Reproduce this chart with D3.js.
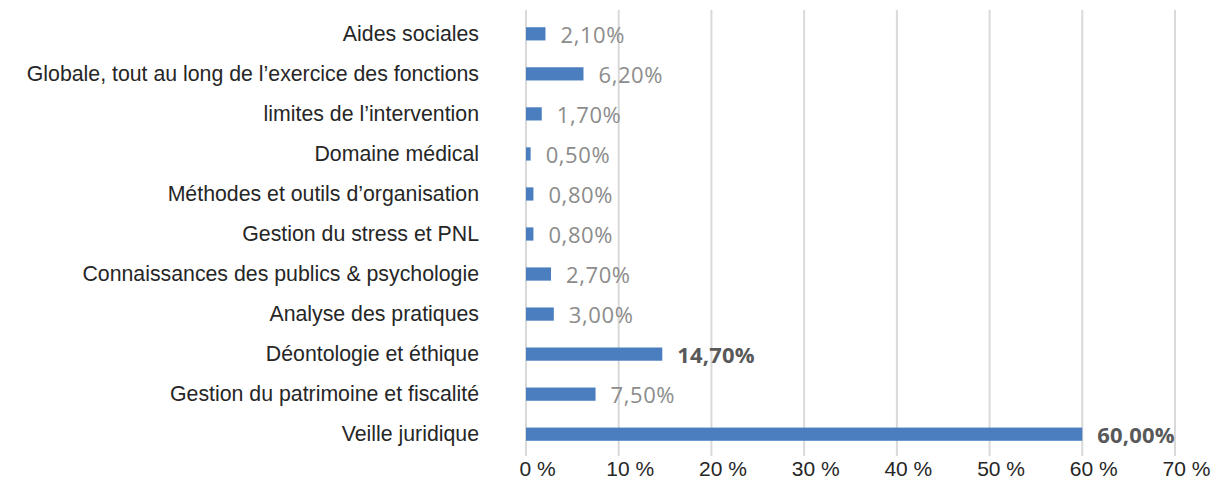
<!DOCTYPE html>
<html>
<head>
<meta charset="utf-8">
<script src="https://cdn.jsdelivr.net/npm/d3@7"></script>
<style>
  body { margin: 0; background: #fff; }
</style>
</head>
<body>
<div id="chart"></div>
<script>
const categories = [
    "Aides sociales",
    "Globale, tout au long de l\u2019exercice des fonctions",
    "limites de l\u2019intervention",
    "Domaine médical",
    "Méthodes et outils d\u2019organisation",
    "Gestion du stress et PNL",
    "Connaissances des publics & psychologie",
    "Analyse des pratiques",
    "Déontologie et éthique",
    "Gestion du patrimoine et fiscalité",
    "Veille juridique"
];
const values = [2.1, 6.2, 1.7, 0.5, 0.8, 0.8, 2.7, 3.0, 14.7, 7.5, 60.0];
const highlighted = ["Déontologie et éthique", "Veille juridique"];
const ticks = [0, 10, 20, 30, 40, 50, 60, 70];

const width = 1215, height = 481;
const margin = { top: 14, right: 40, bottom: 27, left: 526 };

const svg = d3.select("#chart").append("svg")
    .attr("width", width)
    .attr("height", height);

const x = d3.scaleLinear()
    .domain([0, 70])
    .range([margin.left, 1175]);

const y = d3.scaleBand()
    .domain(categories)
    .range([margin.top, height - margin.bottom])
    .paddingInner(0.67)
    .paddingOuter(0.33);

// gridlines
svg.append("g")
    .selectAll("line")
    .data(ticks)
    .join("line")
    .attr("x1", d => x(d))
    .attr("x2", d => x(d))
    .attr("y1", 10)
    .attr("y2", 456)
    .attr("stroke", "#d9d9d9")
    .attr("stroke-width", 2);

// bars
svg.append("g")
    .selectAll("rect")
    .data(values)
    .join("rect")
    .attr("x", x(0))
    .attr("y", (d, i) => y(categories[i]))
    .attr("width", d => x(d) - x(0))
    .attr("height", y.bandwidth())
    .attr("fill", "#4a7ebf");

// value labels
svg.append("g")
    .selectAll("text")
    .data(values)
    .join("text")
    .attr("x", d => x(d) + 15)
    .attr("y", (d, i) => y(categories[i]) + y.bandwidth() / 2)
    .attr("dy", "0.4em")
    .attr("font-family", "'Open Sans', sans-serif")
    .attr("font-size", 22)
    .attr("letter-spacing", (d, i) => highlighted.includes(categories[i]) ? 0.2 : 0.6)
    .attr("font-weight", (d, i) => highlighted.includes(categories[i]) ? "bold" : "normal")
    .attr("fill", (d, i) => highlighted.includes(categories[i]) ? "#595959" : "#8c8c8c")
    .text(d => d.toFixed(2).replace(".", ",") + "%");

// category labels
const yAxis = d3.axisLeft(y).tickSize(0).tickPadding(47);
svg.append("g")
    .attr("transform", `translate(${margin.left},0)`)
    .call(yAxis)
    .call(g => g.select(".domain").remove())
    .selectAll("text")
    .attr("font-family", "'Liberation Sans', Arial, sans-serif")
    .attr("font-size", 21.3)
    .attr("fill", "#262626");

// x tick labels (number centred on the gridline)
const xAxis = d3.axisBottom(x).tickValues(ticks).tickSize(0).tickPadding(0)
    .tickFormat(d => d + " %");
svg.append("g")
    .attr("transform", `translate(0,461)`)
    .call(xAxis)
    .call(g => g.select(".domain").remove())
    .selectAll("text")
    .attr("dx", 11)
    .attr("font-family", "'Liberation Sans', Arial, sans-serif")
    .attr("font-size", 21)
    .attr("fill", "#262626");
</script>
</body>
</html>
